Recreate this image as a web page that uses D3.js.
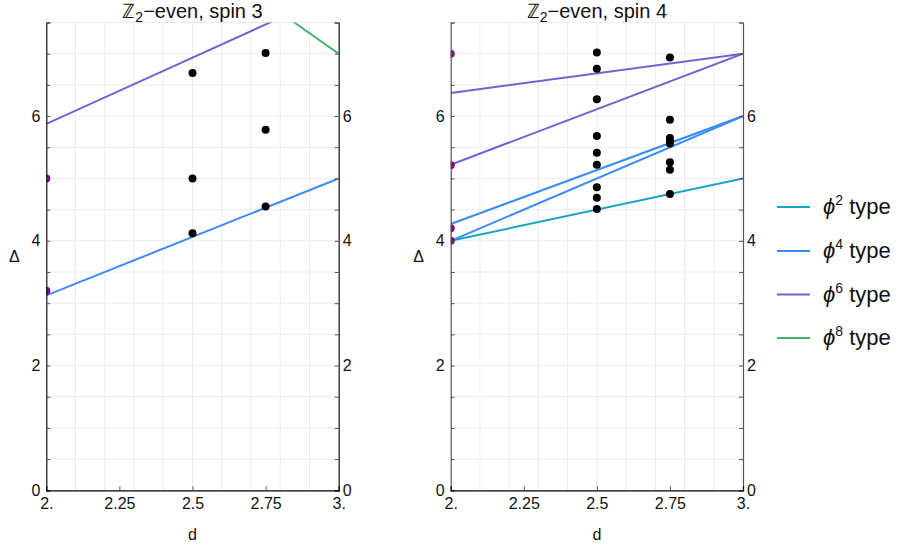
<!DOCTYPE html>
<html><head><meta charset="utf-8">
<script src="https://cdn.jsdelivr.net/npm/d3@7"></script>
<style>body{margin:0;background:#fff;} text{font-family:"Liberation Sans",Arial,sans-serif;}</style>
</head><body><svg id="c" width="901" height="549"></svg>
<script>
// ---- data ----
const seriesNames = ["φ2", "φ4", "φ6", "φ8"];
const seriesColors = ["#17a6c2", "#3a8cf2", "#6b66d2", "#44b36a"];
const xTicks = [2, 2.25, 2.5, 2.75, 3];
const xTickLabels = ["2.", "2.25", "2.5", "2.75", "3."];
const yTicks = [0, 2, 4, 6];

// spin 3 panel
const spin3Lines = [
  {type: 1, pts: [[2, 3.125], [3, 5]]},
  {type: 2, pts: [[2, 5.875], [3, 8]]},
  {type: 3, pts: [[2, 10.3], [3, 7]]}
];
const spin3Free = [[2, 5.0], [2, 3.2]];
const spin3Points = [[2.5, 6.69], [2.5, 5.0], [2.5, 4.12], [2.75, 7.01], [2.75, 5.78], [2.75, 4.55]];

// spin 4 panel
const spin4Lines = [
  {type: 0, pts: [[2, 4], [3, 5]]},
  {type: 1, pts: [[2, 4], [3, 6]]},
  {type: 1, pts: [[2, 4.27], [3, 6]]},
  {type: 2, pts: [[2, 5.22], [3, 7]]},
  {type: 2, pts: [[2, 6.37], [3, 7]]}
];
const spin4Free = [[2, 7.0], [2, 5.21], [2, 4.2], [2, 4.0]];
const spin4Points = [[2.5, 7.02], [2.5, 6.76], [2.5, 6.27], [2.5, 5.68], [2.5, 5.41], [2.5, 5.22], [2.5, 4.86], [2.5, 4.69], [2.5, 4.51],
  [2.75, 6.94], [2.75, 5.94], [2.75, 5.65], [2.75, 5.60], [2.75, 5.56], [2.75, 5.26], [2.75, 5.14], [2.75, 4.75]];

const panels = [
  {title: "spin 3", x0: 46.3, x1: 338.7, lines: spin3Lines, free: spin3Free, pts: spin3Points, axisCol: "#111"},
  {title: "spin 4", x0: 450.7, x1: 743, lines: spin4Lines, free: spin4Free, pts: spin4Points, axisCol: "#555"}
];

const svg = d3.select("#c");
const yTop = 22.5, yBot = 490.3;

panels.forEach((p, i) => {
  const x = d3.scaleLinear().domain([2, 3]).range([p.x0, p.x1]);
  const y = d3.scaleLinear().domain([0, 7.5]).range([yBot, yTop]);
  const g = svg.append("g");
  const cid = "clip" + i;
  svg.append("clipPath").attr("id", cid).append("rect")
    .attr("x", p.x0).attr("y", yTop).attr("width", p.x1 - p.x0).attr("height", yBot - yTop);

  // grid
  g.append("g").selectAll("line").data(d3.range(1, 10).map(k => 2 + k * 0.1))
    .join("line").attr("x1", d => x(d)).attr("x2", d => x(d)).attr("y1", yTop).attr("y2", yBot)
    .attr("stroke", "#ececec").attr("stroke-width", 1);
  g.append("g").selectAll("line").data(d3.range(1, 16).map(k => k * 0.5))
    .join("line").attr("x1", p.x0).attr("x2", p.x1).attr("y1", d => y(d)).attr("y2", d => y(d))
    .attr("stroke", "#ececec").attr("stroke-width", 1);

  // lines
  const line = d3.line().x(d => x(d[0])).y(d => y(d[1]));
  g.append("g").attr("clip-path", `url(#${cid})`).selectAll("path").data(p.lines).join("path")
    .attr("d", d => line(d.pts)).attr("fill", "none")
    .attr("stroke", d => seriesColors[d.type]).attr("stroke-width", 2);

  // points
  g.append("g").attr("clip-path", `url(#${cid})`).selectAll("circle").data(p.free).join("circle")
    .attr("cx", d => x(d[0])).attr("cy", d => y(d[1])).attr("r", 4).attr("fill", "#800080");
  g.append("g").attr("clip-path", `url(#${cid})`).selectAll("circle").data(p.pts).join("circle")
    .attr("cx", d => x(d[0])).attr("cy", d => y(d[1])).attr("r", 4).attr("fill", "#000");

  // axes
  const yL = d3.axisLeft(y).tickValues(d3.range(0, 16).map(k => k * 0.5)).tickSize(-4)
    .tickFormat(d => yTicks.includes(d) ? d3.format("d")(d) : "");
  const gl = g.append("g").attr("transform", `translate(${p.x0},0)`).call(yL);
  const yR = d3.axisRight(y).tickValues(d3.range(0, 16).map(k => k * 0.5)).tickSize(-4)
    .tickFormat(d => yTicks.includes(d) ? d3.format("d")(d) : "");
  const gr = g.append("g").attr("transform", `translate(${p.x1},0)`).call(yR);
  const xB = d3.axisBottom(x).tickValues(xTicks).tickSize(-4).tickFormat((d, k) => xTickLabels[k]);
  const gb = g.append("g").attr("transform", `translate(0,${yBot})`).call(xB);
  [gl, gr, gb].forEach(a => {
    a.select(".domain").attr("stroke", p.axisCol).attr("stroke-width", 1.2);
    a.selectAll(".tick line").attr("stroke", "#555");
    a.selectAll("text").attr("font-size", 16).attr("fill", "#111")
      .attr("font-family", '"Liberation Sans",Arial,sans-serif');
  });
  gb.selectAll(".tick").filter(d => d === 2 || d === 3).select("line").remove();
  gl.selectAll(".tick text").attr("x", -6);
  gr.selectAll(".tick text").attr("x", 4);
  gb.selectAll(".tick text").attr("y", 7);
  gb.select(".domain").attr("stroke", "#000");

  // title
  const cx = (p.x0 + p.x1) / 2;
  const t = svg.append("text").attr("x", cx).attr("y", 18).attr("text-anchor", "middle")
    .attr("font-size", 20).attr("fill", "#111");
  t.append("tspan").text("ℤ");
  t.append("tspan").attr("font-size", 14).attr("dy", 4).text("2");
  t.append("tspan").attr("dy", -4).text("−even, " + p.title);

  svg.append("text").attr("x", cx).attr("y", 540).attr("text-anchor", "middle")
    .attr("font-size", 16).attr("fill", "#111").text("d");
  svg.append("text").attr("x", p.x0 - 32).attr("y", 262).attr("text-anchor", "middle")
    .attr("font-size", 16).attr("fill", "#111").text("Δ");
});

// legend
const legY = [207, 251, 294.5, 338];
const leg = svg.append("g");
seriesNames.forEach((n, k) => {
  leg.append("line").attr("x1", 777).attr("x2", 810).attr("y1", legY[k]).attr("y2", legY[k])
    .attr("stroke", seriesColors[k]).attr("stroke-width", 2);
  const t = leg.append("text").attr("x", 823).attr("y", legY[k] + 7).attr("font-size", 22).attr("fill", "#111");
  t.append("tspan").attr("font-style", "italic").text("ϕ");
  t.append("tspan").attr("font-size", 14).attr("dy", -9).text(n.slice(1));
  t.append("tspan").attr("dy", 9).text(" type");
});
</script></body></html>
